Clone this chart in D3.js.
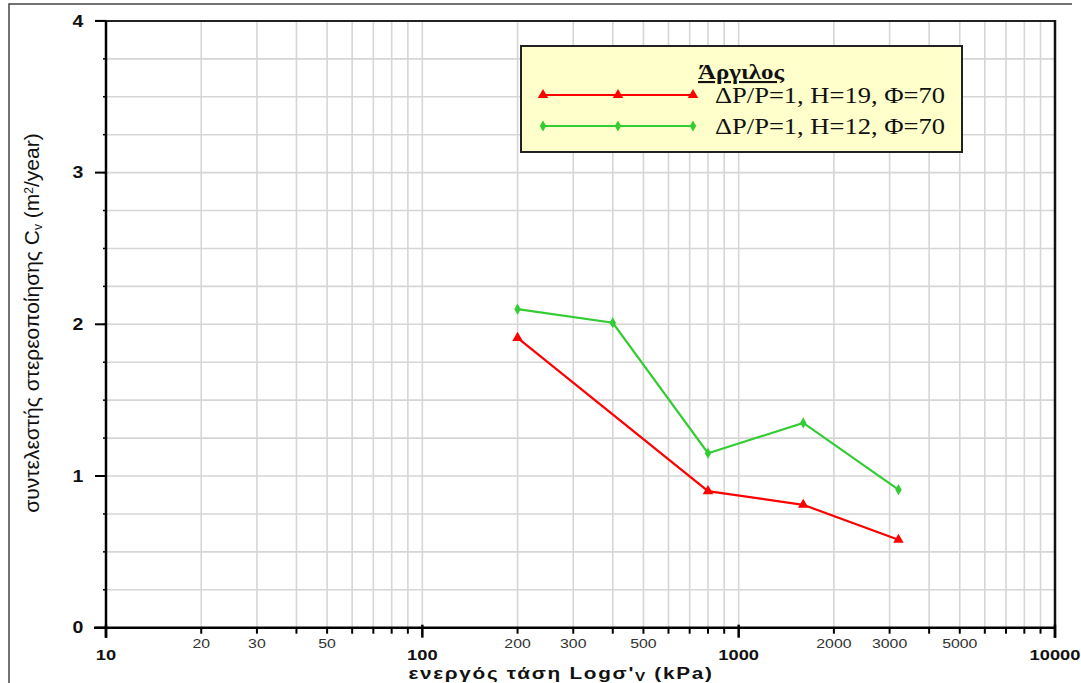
<!DOCTYPE html>
<html>
<head>
<meta charset="utf-8">
<script src="https://cdn.jsdelivr.net/npm/d3@7"></script>
<style>
  html, body { margin: 0; padding: 0; background: #fff; }
  svg { display: block; }
</style>
</head>
<body>
<svg id="chart" width="1081" height="683"></svg>
<script>
// Effective stress (kPa) and consolidation coefficient Cv (m²/year)
const stressH19 = [200, 800, 1600, 3200];
const cvH19 = [1.91, 0.90, 0.81, 0.58];
const stressH12 = [200, 400, 800, 1600, 3200];
const cvH12 = [2.10, 2.01, 1.15, 1.35, 0.91];

const seriesNames = ["ΔP/P=1, H=19, Φ=70", "ΔP/P=1, H=12, Φ=70"];
const legendTitle = "Άργιλος";

const decadeTicks = [10, 100, 1000, 10000];
const minorLabelTicks = [20, 30, 50, 200, 300, 500, 2000, 3000, 5000];
const yTicks = [0, 1, 2, 3, 4];

const svg = d3.select("#chart");
const SANS = "Liberation Sans, Arial, sans-serif";
const SERIF = "Liberation Serif, Times New Roman, serif";
const STRETCH = 1.22; // labels are set in a widened face

const x = d3.scaleLog().domain([10, 10000]).range([106, 1055]);
const y = d3.scaleLinear().domain([0, 4]).range([627.7, 20.9]);

// outer frame
svg.append("path")
  .attr("d", "M9,683 L9,4 L1072,4")
  .attr("fill", "none").attr("stroke", "#444").attr("stroke-width", 1.5);

// all log-spaced minor values in the domain
const logVals = [];
for (let d = 10; d < 10000; d *= 10) for (let k = 1; k <= 9; k++) logVals.push(d * k);
logVals.push(10000);

const grid = svg.append("g");
grid.selectAll("line.v").data(logVals.filter(v => v > 10 && v < 10000)).join("line")
  .attr("x1", d => x(d)).attr("x2", d => x(d))
  .attr("y1", y(4)).attr("y2", y(0))
  .attr("stroke", "#d6d6d6").attr("stroke-width", 1.6);
const yGrid = d3.range(0.25, 4, 0.25);
grid.selectAll("line.h").data(yGrid).join("line")
  .attr("x1", x(10)).attr("x2", x(10000))
  .attr("y1", d => y(d)).attr("y2", d => y(d))
  .attr("stroke", "#d6d6d6").attr("stroke-width", 1.6);

// top and right frame of the plot area
svg.append("line").attr("x1", 95).attr("x2", x(10000) + 1).attr("y1", y(4)).attr("y2", y(4))
  .attr("stroke", "#222").attr("stroke-width", 2);
svg.append("line").attr("x1", x(10000)).attr("x2", x(10000)).attr("y1", y(4) - 1).attr("y2", y(0) + 10)
  .attr("stroke", "#111").attr("stroke-width", 2.5);

// Y axis
const yAxis = svg.append("g").attr("transform", `translate(${x(10)},0)`);
yAxis.append("line").attr("x1", 0).attr("x2", 0).attr("y1", y(4)).attr("y2", y(0) + 10)
  .attr("stroke", "#000").attr("stroke-width", 2.5);
yAxis.selectAll("line.minor").data(yGrid).join("line")
  .attr("x1", -3).attr("x2", 0).attr("y1", d => y(d)).attr("y2", d => y(d))
  .attr("stroke", "#000").attr("stroke-width", 1.5);
yAxis.selectAll("line.major").data(yTicks).join("line")
  .attr("x1", -11).attr("x2", 0).attr("y1", d => y(d)).attr("y2", d => y(d))
  .attr("stroke", "#000").attr("stroke-width", 2);
yAxis.selectAll("text").data(yTicks).join("text")
  .attr("transform", d => `translate(-28,${y(d)}) scale(${STRETCH},1)`)
  .attr("dy", "0.36em")
  .attr("text-anchor", "middle")
  .attr("font-family", SANS)
  .attr("font-weight", "bold").attr("font-size", 16).attr("fill", "#111")
  .text(d => d);

// X axis
const xAxis = svg.append("g").attr("transform", `translate(0,${y(0)})`);
xAxis.append("line").attr("x1", x(10) - 12).attr("x2", x(10000)).attr("y1", 0).attr("y2", 0)
  .attr("stroke", "#000").attr("stroke-width", 2.5);
xAxis.selectAll("line.minor").data(logVals.filter(v => !decadeTicks.includes(v))).join("line")
  .attr("x1", d => x(d)).attr("x2", d => x(d)).attr("y1", 0).attr("y2", 6)
  .attr("stroke", "#000").attr("stroke-width", 2);
xAxis.selectAll("line.major").data(decadeTicks).join("line")
  .attr("x1", d => x(d)).attr("x2", d => x(d)).attr("y1", -3).attr("y2", 10)
  .attr("stroke", "#000").attr("stroke-width", 2.5);
xAxis.selectAll("text.minor").data(minorLabelTicks).join("text")
  .attr("transform", d => `translate(${x(d)},20) scale(${STRETCH},1)`)
  .attr("text-anchor", "middle")
  .attr("font-family", SANS)
  .attr("font-size", 13).attr("fill", "#333")
  .text(d => d);
xAxis.selectAll("text.major").data(decadeTicks).join("text")
  .attr("transform", d => `translate(${x(d)},32.5) scale(${STRETCH},1)`)
  .attr("text-anchor", "middle")
  .attr("font-family", SANS)
  .attr("font-weight", "bold").attr("font-size", 15).attr("fill", "#111")
  .text(d => d);

// axis titles
const xTitle = svg.append("text")
  .attr("transform", `translate(561,679) scale(${STRETCH},1)`)
  .attr("text-anchor", "middle")
  .attr("font-family", SANS)
  .attr("font-weight", "bold").attr("font-size", 17).attr("fill", "#111")
  .attr("letter-spacing", 1.4);
xTitle.append("tspan").text("ενεργός τάση Logσ'");
xTitle.append("tspan").attr("font-size", 12.5).attr("dy", 2).text("V");
xTitle.append("tspan").attr("dy", -2).text(" (kPa)");

const yTitle = svg.append("text")
  .attr("transform", `translate(39,323) rotate(-90)`)
  .attr("text-anchor", "middle")
  .attr("font-family", SANS)
  .attr("font-size", 21).attr("fill", "#111");
yTitle.append("tspan").text("συντελεστής στερεοποίησης C");
yTitle.append("tspan").attr("font-size", 12).attr("dy", 3).text("v");
yTitle.append("tspan").attr("dy", -3).text(" (m");
yTitle.append("tspan").attr("font-size", 12).attr("dy", -6).text("2");
yTitle.append("tspan").attr("dy", 6).text("/year)");

// data series
const tri = d3.symbol().type(d3.symbolTriangle).size(48);
const dia = d3.symbol().type(d3.symbolDiamond).size(36);
const line = d3.line().x(d => x(d[0])).y(d => y(d[1]));

const series = [
  { pts: d3.zip(stressH19, cvH19), color: "#ff0000", sym: tri, name: seriesNames[0] },
  { pts: d3.zip(stressH12, cvH12), color: "#33cc33", sym: dia, name: seriesNames[1] }
];

series.forEach(s => {
  svg.append("path").attr("d", line(s.pts))
    .attr("fill", "none").attr("stroke", s.color).attr("stroke-width", 2.2);
  svg.selectAll(null).data(s.pts).join("path")
    .attr("transform", d => `translate(${x(d[0])},${y(d[1])})`)
    .attr("d", s.sym).attr("fill", s.color);
});

// legend
const lg = svg.append("g");
lg.append("rect").attr("x", 521).attr("y", 46).attr("width", 441).attr("height", 106)
  .attr("fill", "#ffffcc").attr("stroke", "#222").attr("stroke-width", 2);
lg.append("text").attr("x", 741).attr("y", 79).attr("text-anchor", "middle")
  .attr("font-family", SERIF)
  .attr("font-weight", "bold").attr("font-size", 21).attr("fill", "#111")
  .attr("text-decoration", "underline")
  .attr("textLength", 86).attr("lengthAdjust", "spacingAndGlyphs")
  .text(legendTitle);
series.forEach((s, i) => {
  const ly = 95 + i * 31;
  lg.append("line").attr("x1", 543).attr("x2", 693).attr("y1", ly).attr("y2", ly)
    .attr("stroke", s.color).attr("stroke-width", 2.2);
  lg.selectAll(null).data([543, 618, 693]).join("path")
    .attr("transform", d => `translate(${d},${ly})`)
    .attr("d", s.sym).attr("fill", s.color);
  lg.append("text").attr("x", 715).attr("y", ly + 8)
    .attr("font-family", SERIF)
    .attr("font-size", 23).attr("fill", "#111")
    .attr("textLength", 230).attr("lengthAdjust", "spacingAndGlyphs")
    .text(s.name);
});
</script>
</body>
</html>
